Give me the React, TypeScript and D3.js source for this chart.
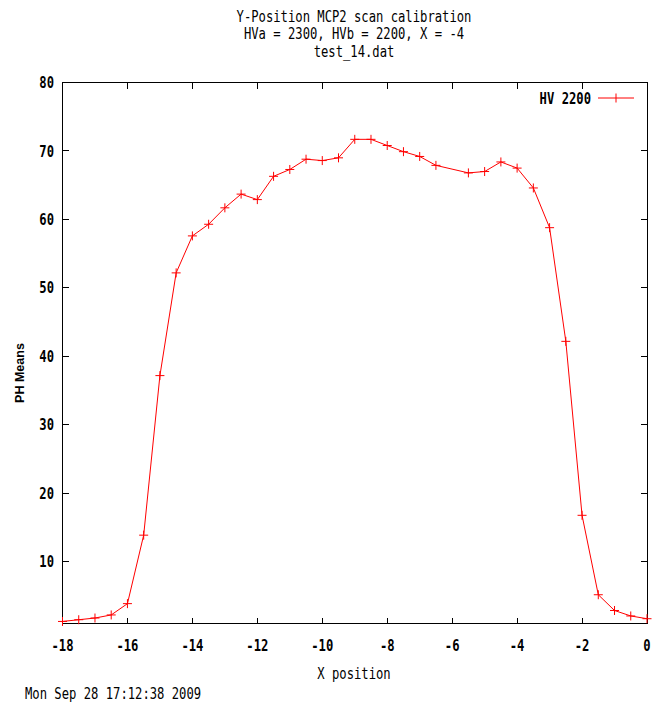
import React from "react";
import * as d3 from "d3";

const titleLines = [
  "Y-Position MCP2 scan calibration",
  "HVa = 2300, HVb = 2200, X = -4",
  "test_14.dat",
];
const xLabel = "X position";
const yLabel = "PH Means";
const dateLabel = "Mon Sep 28 17:12:38 2009";
const seriesName = "HV 2200";

const xPositions = [
  -18, -17.5, -17, -16.5, -16, -15.5, -15, -14.5, -14, -13.5, -13, -12.5, -12,
  -11.5, -11, -10.5, -10, -9.5, -9, -8.5, -8, -7.5, -7, -6.5, -5.5, -5, -4.5,
  -4, -3.5, -3, -2.5, -2, -1.5, -1, -0.5, 0,
];
const phMeans = [
  1.3, 1.55, 1.8, 2.25, 3.9, 13.9, 37.2, 52.2, 57.6, 59.3, 61.7, 63.7, 62.9,
  66.3, 67.3, 68.8, 68.6, 69.0, 71.7, 71.7, 70.8, 69.9, 69.2, 67.9, 66.8, 67.0,
  68.4, 67.5, 64.6, 58.8, 42.2, 16.8, 5.2, 2.9, 2.1, 1.7,
];
const xTicks = [-18, -16, -14, -12, -10, -8, -6, -4, -2, 0];
const yTicks = [10, 20, 30, 40, 50, 60, 70, 80];
const xDomain = [-18, 0];
const yDomain = [1, 80];

const W = 652;
const H = 705;
const left = 62.5;
const right = 647;
const top = 82.5;
const bottom = 623.5;
const FONT = "'DejaVu Sans Mono', monospace";
const FS = 12.2;
const SY = 1.25;

function T({ x, y, anchor = "middle", children, weight = "normal" }: any) {
  return (
    <text
      transform={`translate(${x},${y}) scale(1,${SY})`}
      textAnchor={anchor}
      dominantBaseline="central"
      fontFamily={FONT}
      fontSize={FS}
      fontWeight={weight}
      fill="#000"
    >
      {children}
    </text>
  );
}

export default function App() {
  const x = d3.scaleLinear().domain(xDomain).range([left, right]);
  const y = d3.scaleLinear().domain(yDomain).range([bottom, top]);
  const data = xPositions.map((v, i) => [v, phMeans[i]] as [number, number]);
  const line = d3
    .line<[number, number]>()
    .x((d) => x(d[0]))
    .y((d) => y(d[1]));
  const tick = 6;
  const m = 4.5;
  const legY = 98;
  return (
    <svg
      width={W}
      height={H}
      style={{ position: "absolute", left: 0, top: 0, background: "#fff" }}
    >
      <rect width={W} height={H} fill="#fff" />
      {titleLines.map((t, i) => (
        <T key={i} x={354} y={16 + i * 17.6}>
          {t}
        </T>
      ))}
      <g stroke="#000" strokeWidth={1} shapeRendering="crispEdges">
        {xTicks.map((t) => (
          <g key={t}>
            <line x1={x(t)} x2={x(t)} y1={bottom} y2={bottom - tick} />
            <line x1={x(t)} x2={x(t)} y1={top} y2={top + tick} />
          </g>
        ))}
        {yTicks.map((t) => (
          <g key={t}>
            <line x1={left} x2={left + tick} y1={y(t)} y2={y(t)} />
            <line x1={right} x2={right - tick} y1={y(t)} y2={y(t)} />
          </g>
        ))}
        <rect
          x={left}
          y={top}
          width={right - left}
          height={bottom - top}
          fill="none"
        />
      </g>
      {xTicks.map((t) => (
        <T key={t} x={x(t)} y={645} weight="bold">
          {t}
        </T>
      ))}
      {yTicks.map((t) => (
        <T key={t} x={54} y={y(t)} anchor="end" weight="bold">
          {t}
        </T>
      ))}
      <T x={354} y={673}>
        {xLabel}
      </T>
      <T x={25} y={693} anchor="start">
        {dateLabel}
      </T>
      <text
        transform={`translate(20,${(top + bottom) / 2 + 20}) rotate(-90)`}
        textAnchor="middle"
        dominantBaseline="central"
        fontFamily="'Liberation Sans', Arial, sans-serif"
        fontWeight="bold"
        fontSize={12.5}
        fill="#000"
      >
        {yLabel}
      </text>
      <path d={line(data) || ""} fill="none" stroke="#ff0000" strokeWidth={1} />
      <g stroke="#ff0000" strokeWidth={1}>
        {data.map((d, i) => (
          <g key={i}>
            <line x1={x(d[0]) - m} x2={x(d[0]) + m} y1={y(d[1])} y2={y(d[1])} />
            <line x1={x(d[0])} x2={x(d[0])} y1={y(d[1]) - m} y2={y(d[1]) + m} />
          </g>
        ))}
      </g>
      <T x={591} y={legY} anchor="end" weight="bold">
        {seriesName}
      </T>
      <g stroke="#ff0000" strokeWidth={1}>
        <line x1={598} x2={634} y1={legY} y2={legY} />
        <line x1={616} x2={616} y1={legY - m} y2={legY + m} />
      </g>
    </svg>
  );
}
